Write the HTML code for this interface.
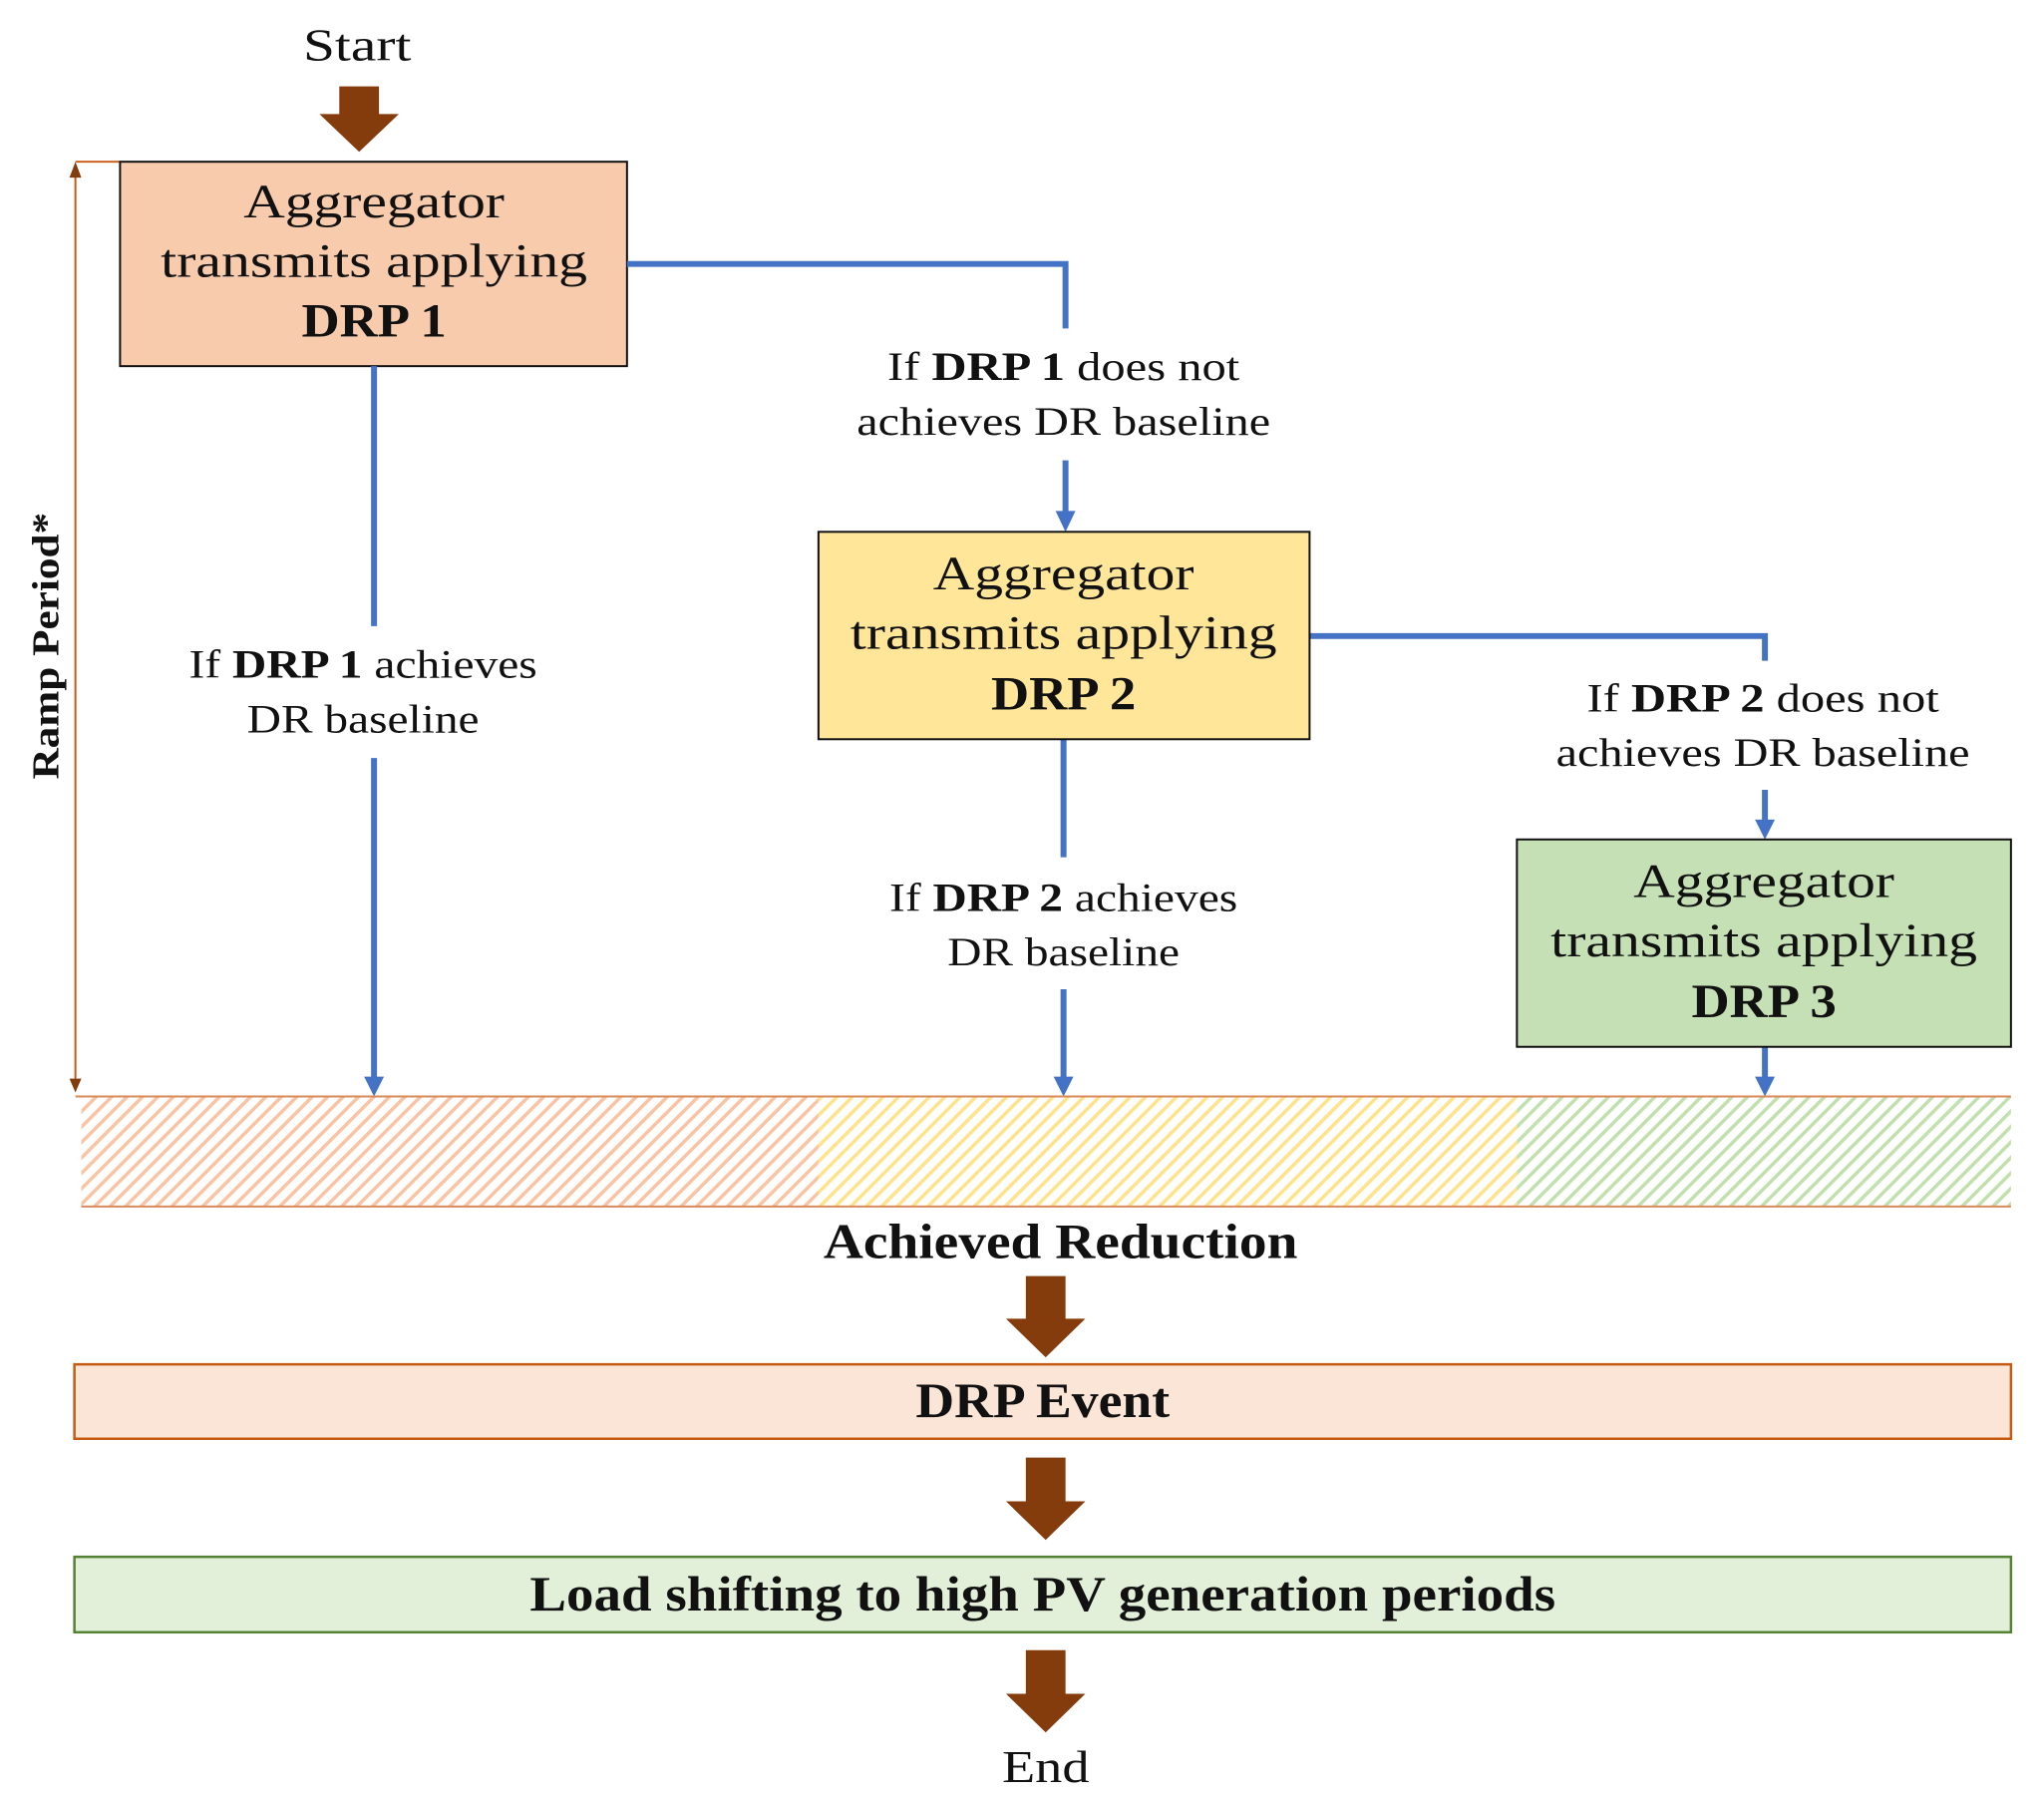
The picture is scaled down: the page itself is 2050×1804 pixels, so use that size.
<!DOCTYPE html>
<html><head><meta charset="utf-8"><style>
html,body{margin:0;padding:0;background:#fff;}
svg{display:block;}
text{font-family:"Liberation Serif",serif;fill:#111;}
</style></head><body>
<svg width="2050" height="1804" viewBox="0 0 2050 1804" xmlns="http://www.w3.org/2000/svg">
<defs>
<pattern id="hO" width="11" height="11" patternUnits="userSpaceOnUse" patternTransform="rotate(45)">
<rect width="11" height="11" fill="#fff"/><rect width="3.5" height="11" fill="#f8c4a4"/></pattern>
<pattern id="hY" width="11" height="11" patternUnits="userSpaceOnUse" patternTransform="rotate(45)">
<rect width="11" height="11" fill="#fff"/><rect width="3.5" height="11" fill="#ffe38a"/></pattern>
<pattern id="hG" width="11" height="11" patternUnits="userSpaceOnUse" patternTransform="rotate(45)">
<rect width="11" height="11" fill="#fff"/><rect width="3.5" height="11" fill="#c2e0ad"/></pattern>
</defs>
<g transform="translate(1,1) scale(0.995)">
<text x="359" y="60" font-size="46" text-anchor="middle" textLength="109" lengthAdjust="spacingAndGlyphs">Start</text>
<polygon points="341,86 381,86 381,114 401,114 361,152 321,114 341,114" fill="#843c0c"/>

<line x1="75" y1="162" x2="120" y2="162" stroke="#c55a11" stroke-width="2"/>
<line x1="75" y1="170" x2="75" y2="1090" stroke="#c55a11" stroke-width="2"/>
<polygon points="69,178 81,178 75,162" fill="#843c0c"/>
<polygon points="69,1086 81,1086 75,1100" fill="#843c0c"/>
<text transform="translate(58,650) rotate(-90)" font-size="38" font-weight="bold" text-anchor="middle" textLength="269" lengthAdjust="spacingAndGlyphs">Ramp Period*</text>

<rect x="120" y="162" width="511" height="206" fill="#f8cbad" stroke="#111" stroke-width="2"/>
<g font-size="48" text-anchor="middle">
<text x="376" y="218" textLength="263" lengthAdjust="spacingAndGlyphs">Aggregator</text>
<text x="376" y="278" textLength="430" lengthAdjust="spacingAndGlyphs">transmits applying</text>
<text x="376" y="338" font-weight="bold" textLength="146" lengthAdjust="spacingAndGlyphs">DRP 1</text>
</g>

<g stroke="#4472c4" stroke-width="6" fill="none">
<polyline points="631,265 1073,265 1073,330"/>
<line x1="1073" y1="463" x2="1073" y2="518"/>
<line x1="376" y1="368" x2="376" y2="630"/>
<line x1="376" y1="763" x2="376" y2="1088"/>
<polyline points="1319,640 1778,640 1778,665"/>
<line x1="1778" y1="795" x2="1778" y2="828"/>
<line x1="1071" y1="744" x2="1071" y2="863"/>
<line x1="1071" y1="996" x2="1071" y2="1088"/>
<line x1="1778" y1="1054" x2="1778" y2="1088"/>
</g>
<g fill="#4472c4">
<polygon points="1063,514 1083,514 1073,535"/>
<polygon points="366,1084 386,1084 376,1104"/>
<polygon points="1061,1084 1081,1084 1071,1104"/>
<polygon points="1768,825 1788,825 1778,845"/>
<polygon points="1768,1084 1788,1084 1778,1104"/>
</g>

<g font-size="40" text-anchor="middle">
<text x="1071" y="382" textLength="355" lengthAdjust="spacingAndGlyphs">If <tspan font-weight="bold">DRP 1</tspan> does not</text>
<text x="1071" y="437" textLength="417" lengthAdjust="spacingAndGlyphs">achieves  DR baseline</text>
<text x="365" y="682" textLength="351" lengthAdjust="spacingAndGlyphs">If <tspan font-weight="bold">DRP 1</tspan> achieves</text>
<text x="365" y="737" textLength="234" lengthAdjust="spacingAndGlyphs">DR baseline</text>
<text x="1071" y="917" textLength="351" lengthAdjust="spacingAndGlyphs">If <tspan font-weight="bold">DRP 2</tspan> achieves</text>
<text x="1071" y="972" textLength="234" lengthAdjust="spacingAndGlyphs">DR baseline</text>
<text x="1776" y="716" textLength="355" lengthAdjust="spacingAndGlyphs">If <tspan font-weight="bold">DRP 2</tspan> does not</text>
<text x="1776" y="771" textLength="417" lengthAdjust="spacingAndGlyphs">achieves  DR baseline</text>
</g>

<rect x="824" y="535" width="495" height="209" fill="#ffe699" stroke="#111" stroke-width="2"/>
<g font-size="48" text-anchor="middle">
<text x="1071" y="593" textLength="263" lengthAdjust="spacingAndGlyphs">Aggregator</text>
<text x="1071" y="653" textLength="430" lengthAdjust="spacingAndGlyphs">transmits applying</text>
<text x="1071" y="714" font-weight="bold" textLength="146" lengthAdjust="spacingAndGlyphs">DRP 2</text>
</g>

<rect x="1528" y="845" width="498" height="209" fill="#c5e0b4" stroke="#111" stroke-width="2"/>
<g font-size="48" text-anchor="middle">
<text x="1777" y="903" textLength="263" lengthAdjust="spacingAndGlyphs">Aggregator</text>
<text x="1777" y="963" textLength="430" lengthAdjust="spacingAndGlyphs">transmits applying</text>
<text x="1777" y="1024" font-weight="bold" textLength="146" lengthAdjust="spacingAndGlyphs">DRP 3</text>
</g>

<rect x="81" y="1104" width="743" height="111" fill="url(#hO)"/>
<rect x="824" y="1104" width="704" height="111" fill="url(#hY)"/>
<rect x="1528" y="1104" width="498" height="111" fill="url(#hG)"/>
<line x1="75" y1="1104" x2="2026" y2="1104" stroke="#d9895a" stroke-width="2"/>
<line x1="81" y1="1215" x2="2026" y2="1215" stroke="#d9895a" stroke-width="2"/>

<text x="1068" y="1267" font-size="50" font-weight="bold" text-anchor="middle" textLength="478" lengthAdjust="spacingAndGlyphs">Achieved Reduction</text>
<polygon points="1033,1285 1073,1285 1073,1328 1093,1328 1053,1367 1013,1328 1033,1328" fill="#843c0c"/>

<rect x="74" y="1374" width="1952" height="75" fill="#fbe5d6" stroke="#c55a11" stroke-width="2.5"/>
<text x="1050" y="1427" font-size="50" font-weight="bold" text-anchor="middle" textLength="256" lengthAdjust="spacingAndGlyphs">DRP Event</text>
<polygon points="1033,1468 1073,1468 1073,1512 1093,1512 1053,1551 1013,1512 1033,1512" fill="#843c0c"/>

<rect x="74" y="1568" width="1952" height="76" fill="#e2f0d9" stroke="#548235" stroke-width="2.5"/>
<text x="1050" y="1622" font-size="50" font-weight="bold" text-anchor="middle" textLength="1034" lengthAdjust="spacingAndGlyphs">Load shifting to high PV generation periods</text>
<polygon points="1033,1662 1073,1662 1073,1706 1093,1706 1053,1745 1013,1706 1033,1706" fill="#843c0c"/>

<text x="1053" y="1795" font-size="46" text-anchor="middle" textLength="88" lengthAdjust="spacingAndGlyphs">End</text>
</g>
</svg>
</body></html>
